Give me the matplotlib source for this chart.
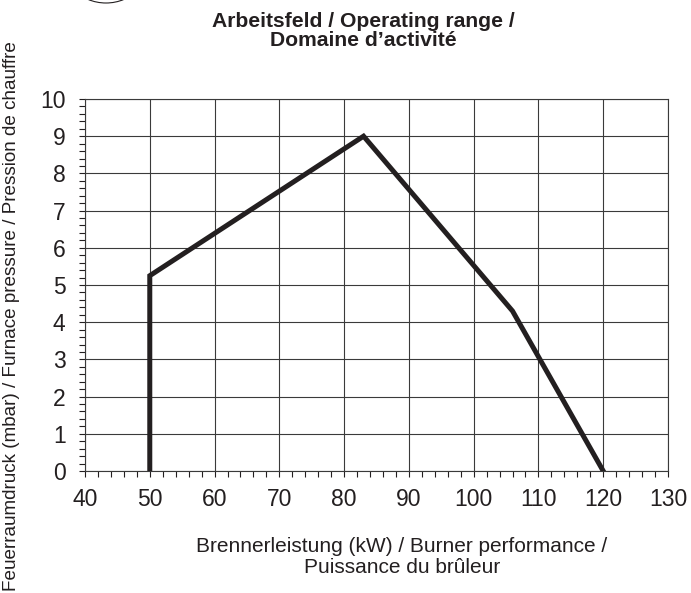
import matplotlib.pyplot as plt
import numpy as np
from matplotlib.patches import Ellipse

plt.rcParams['font.family'] = ['Liberation Sans', 'DejaVu Sans']

# operating range corner points
power_kw = [50, 50, 83, 106, 120]
pressure_mbar = [0, 5.25, 9, 4.3, 0]

x_ticks = [40, 50, 60, 70, 80, 90, 100, 110, 120, 130]
y_ticks = [0, 1, 2, 3, 4, 5, 6, 7, 8, 9, 10]

ink = '#231f20'

fig = plt.figure(figsize=(6.91, 5.93), dpi=100)
ax = fig.add_axes([85/691, 1 - 471/593, 583/691, 372/593])

ax.plot(power_kw, pressure_mbar, color=ink, lw=3.6, solid_joinstyle='miter', zorder=3)

ax.set_xlim(40, 130)
ax.set_ylim(0, 10)
ax.set_xticks(x_ticks)
ax.set_yticks(y_ticks)
ax.set_xticks(np.arange(40, 131, 2), minor=True)
ax.set_yticks(np.arange(0, 10.01, 0.2), minor=True)
ax.grid(True, which='major', color='#3a3a3a', lw=0.8)
ax.tick_params(which='both', direction='out', length=4, width=0.8, color=ink,
               labelsize=16.5, labelcolor=ink)
ax.tick_params(axis='x', pad=8)
ax.tick_params(axis='y', pad=10)
for s in ax.spines.values():
    s.set_color('#3a3a3a')
    s.set_linewidth(0.8)

fig.text(363/691, 1 - 31/593, 'Arbeitsfeld / Operating range /\nDomaine d\u2019activité',
         ha='center', va='center', fontsize=15.2, fontweight='bold', color=ink,
         linespacing=1.05)
fig.text(402/691, 1 - 557/593, 'Brennerleistung (kW) / Burner performance /\nPuissance du brûleur',
         ha='center', va='center', fontsize=15, color=ink, linespacing=1.08)
fig.text(12/691, 1 - 316/593,
         'Feuerraumdruck (mbar) / Furnace pressure / Pression de chauffre',
         ha='center', va='center', rotation=90, fontsize=13.6, color=ink)

# partial circle cut off at the top edge
fig.patches.append(Ellipse((106/691, 1 + 44/593), 94/691, 94/593,
                           transform=fig.transFigure, fill=False,
                           edgecolor=ink, lw=0.8))

fig.savefig('out.png', dpi=100)
